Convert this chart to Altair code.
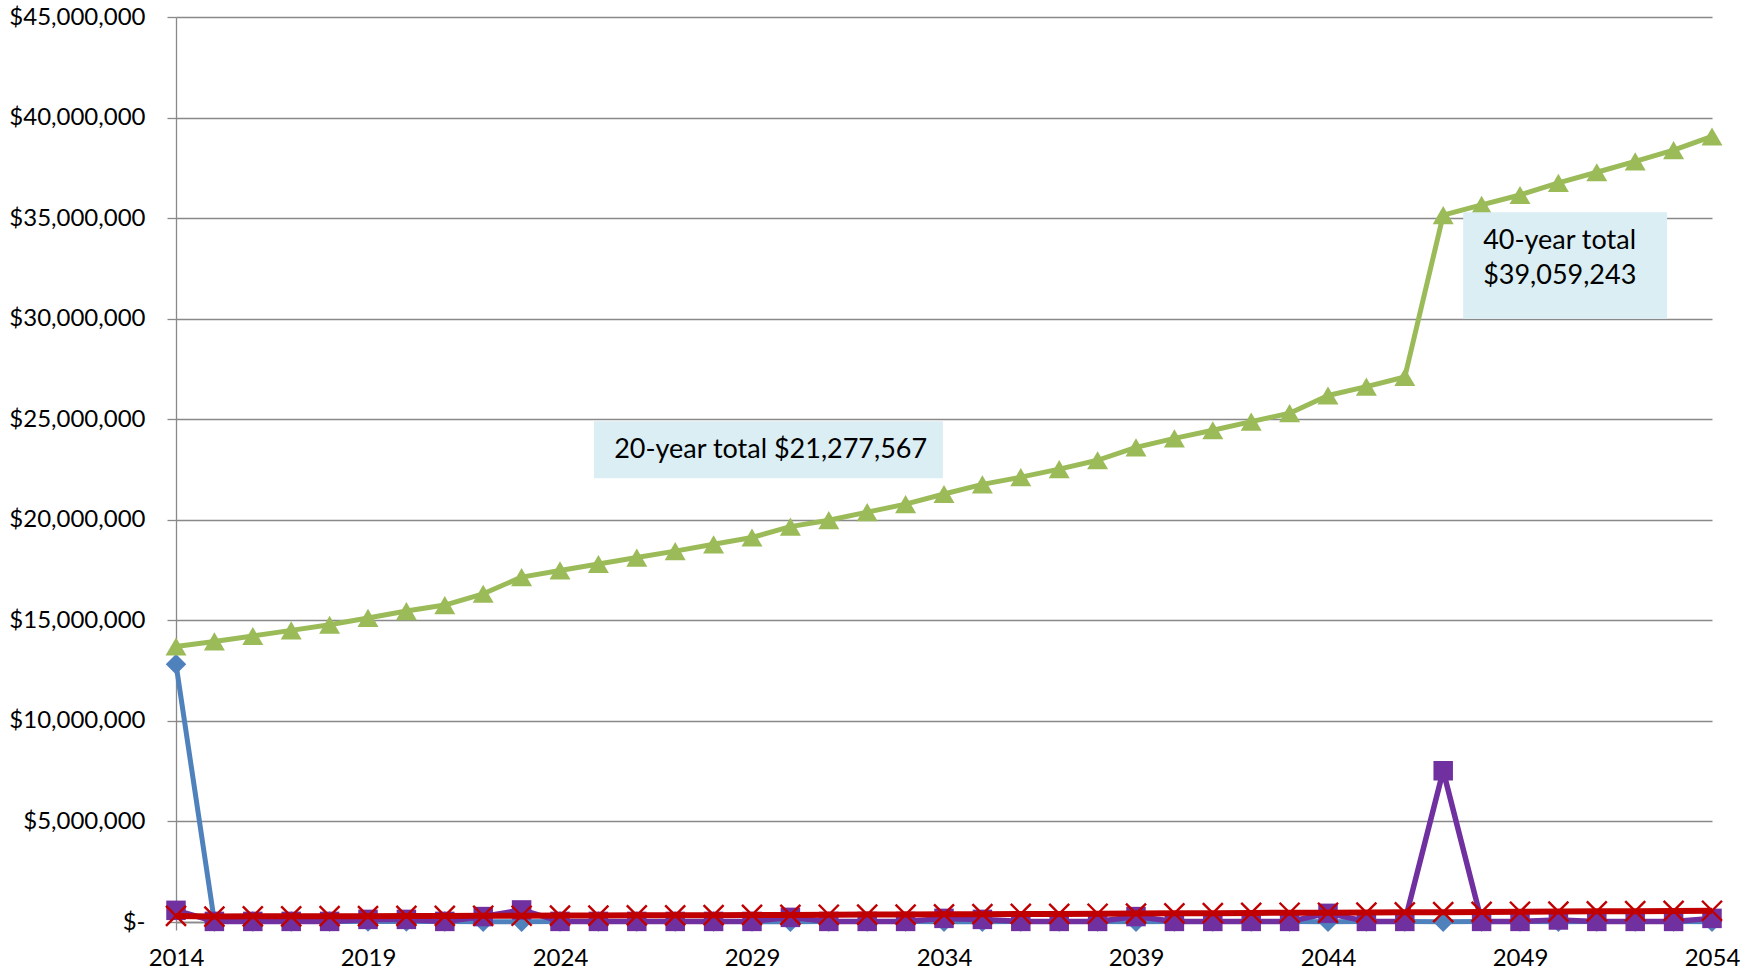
import altair as alt
import pandas as pd

# ---------------- data ----------------
years = [2014, 2015, 2016, 2017, 2018, 2019, 2020, 2021, 2022, 2023,
         2024, 2025, 2026, 2027, 2028, 2029, 2030, 2031, 2032, 2033,
         2034, 2035, 2036, 2037, 2038, 2039, 2040, 2041, 2042, 2043,
         2044, 2045, 2046, 2047, 2048, 2049, 2050, 2051, 2052, 2053, 2054]

# blue diamonds
series_blue = [12.82, 0.02, 0.02, 0.02, 0.02, 0.02, 0.02, 0.02, 0.01, 0.01,
               0.02, 0.02, 0.02, 0.02, 0.02, 0.02, 0.01, 0.02, 0.02, 0.02,
               0.01, 0.01, 0.02, 0.02, 0.02, 0.01, 0.02, 0.02, 0.02, 0.02,
               0.01, 0.02, 0.02, 0.01, 0.02, 0.02, 0.01, 0.02, 0.02, 0.02, 0.01]

# purple squares
series_purple = [0.58, 0.03, 0.03, 0.03, 0.03, 0.13, 0.13, 0.03, 0.27, 0.60,
                 0.03, 0.03, 0.03, 0.03, 0.03, 0.03, 0.23, 0.03, 0.03, 0.03,
                 0.18, 0.13, 0.03, 0.03, 0.03, 0.27, 0.03, 0.03, 0.03, 0.03,
                 0.43, 0.03, 0.03, 7.52, 0.03, 0.03, 0.10, 0.03, 0.03, 0.03, 0.18]

# red crosses
series_red = [0.30, 0.27, 0.28, 0.28, 0.29, 0.29, 0.30, 0.30, 0.31, 0.31,
              0.32, 0.32, 0.33, 0.33, 0.34, 0.35, 0.35, 0.36, 0.37, 0.37,
              0.38, 0.39, 0.40, 0.40, 0.41, 0.42, 0.43, 0.44, 0.45, 0.46,
              0.46, 0.47, 0.48, 0.49, 0.50, 0.51, 0.52, 0.53, 0.54, 0.55, 0.56]

# green triangles (running total)
series_green = [13.70, 13.95, 14.22, 14.50, 14.78, 15.12, 15.46, 15.76, 16.32, 17.15,
                17.48, 17.80, 18.12, 18.44, 18.78, 19.12, 19.66, 19.98, 20.38, 20.78,
                21.28, 21.76, 22.12, 22.52, 22.96, 23.60, 24.05, 24.45, 24.88, 25.30,
                26.18, 26.62, 27.10, 35.15, 35.66, 36.15, 36.75, 37.28, 37.82, 38.38, 39.06]

y_ticks = [0, 5e6, 10e6, 15e6, 20e6, 25e6, 30e6, 35e6, 40e6, 45e6]
x_ticks = [2014, 2019, 2024, 2029, 2034, 2039, 2044, 2049, 2054]

box_texts = ["20-year total $21,277,567", "40-year total", "$39,059,243"]

# ---------------- styling ----------------
FONT = "Lato"
GRID = "#898989"
BLUE = "#4F81BD"
PURPLE = "#7030A0"
RED = "#C00000"
GREEN = "#9BBB59"
BOXFILL = "#DAEEF3"


def frame(values):
    return pd.DataFrame({"year": years, "value": [v * 1e6 for v in values]})


x_scale = alt.Scale(domain=[2014, 2054], nice=False, zero=False)
y_scale = alt.Scale(domain=[0, 45e6], nice=False, zero=True)

x_axis = alt.Axis(
    values=x_ticks, format="d", title=None, grid=False,
    labelFont=FONT, labelFontSize=24, labelColor="#000000",
    labelPadding=16, labelFlush=False, labelOverlap=False,
    tickSize=8, tickColor=GRID, tickWidth=1.3,
    domainColor=GRID, domainWidth=1.3,
)
y_axis = alt.Axis(
    values=y_ticks, title=None, grid=True,
    gridColor=GRID, gridWidth=1.3,
    labelExpr="datum.value == 0 ? '$-\u00a0\u00a0\u00a0' : '$' + format(datum.value, ',')",
    labelFont=FONT, labelFontSize=24, labelColor="#000000",
    labelPadding=22, tickSize=9, tickColor=GRID, tickWidth=1.3,
    domainColor=GRID, domainWidth=1.3,
)


def enc(chart):
    return chart.encode(
        x=alt.X("year:Q", scale=x_scale, axis=x_axis),
        y=alt.Y("value:Q", scale=y_scale, axis=y_axis),
    )


def series(values, color, line_w, shape, size, filled=True, stroke_w=2):
    df = frame(values)
    line = enc(alt.Chart(df).mark_line(color=color, strokeWidth=line_w, strokeJoin="round"))
    if filled:
        pts = enc(alt.Chart(df).mark_point(shape=shape, size=size, filled=True,
                                            fill=color, fillOpacity=1, opacity=1,
                                            strokeWidth=0))
    else:
        pts = enc(alt.Chart(df).mark_point(shape=shape, size=size, filled=False,
                                            stroke=color, strokeWidth=stroke_w, opacity=1))
    return [line, pts]


layers = []
layers += series(series_blue, BLUE, 5, "diamond", 420)
layers += series(series_purple, PURPLE, 5.5, "square", 380)
layers += series(series_red, RED, 6, "M-1,-1L1,1M-1,1L1,-1", 400, filled=False, stroke_w=2.4)
layers += series(series_green, GREEN, 5, "triangle-up", 440)

# annotation boxes (anchored in data units)
boxes = pd.DataFrame({
    "x0": [2024.885, 2047.52],
    "x1": [2033.97, 2052.83],
    "y0": [22.07e6, 29.99e6],
    "y1": [24.9e6, 35.29e6],
})
box_layer = alt.Chart(boxes).mark_rect(color=BOXFILL, opacity=1).encode(
    x=alt.X("x0:Q", scale=x_scale, axis=x_axis),
    x2="x1:Q",
    y=alt.Y("y0:Q", scale=y_scale, axis=y_axis),
    y2="y1:Q",
)
texts = pd.DataFrame({
    "x": [2025.41, 2048.04, 2048.04],
    "y": [23.06e6, 33.45e6, 31.71e6],
    "t": box_texts,
})
text_layer = alt.Chart(texts).mark_text(
    align="left", baseline="alphabetic", font=FONT, fontSize=27, color="#000000"
).encode(
    x=alt.X("x:Q", scale=x_scale, axis=x_axis),
    y=alt.Y("y:Q", scale=y_scale, axis=y_axis),
    text="t:N",
)

chart = alt.layer(*layers, box_layer, text_layer).properties(
    width=1536,
    height=905,
    autosize=alt.AutoSizeParams(type="none"),
    padding={"left": 176, "top": 17, "right": 44, "bottom": 51},
    background="#ffffff",
).configure_view(stroke=None)

chart.save("out.html", embed_options={"renderer": "svg", "actions": False})
